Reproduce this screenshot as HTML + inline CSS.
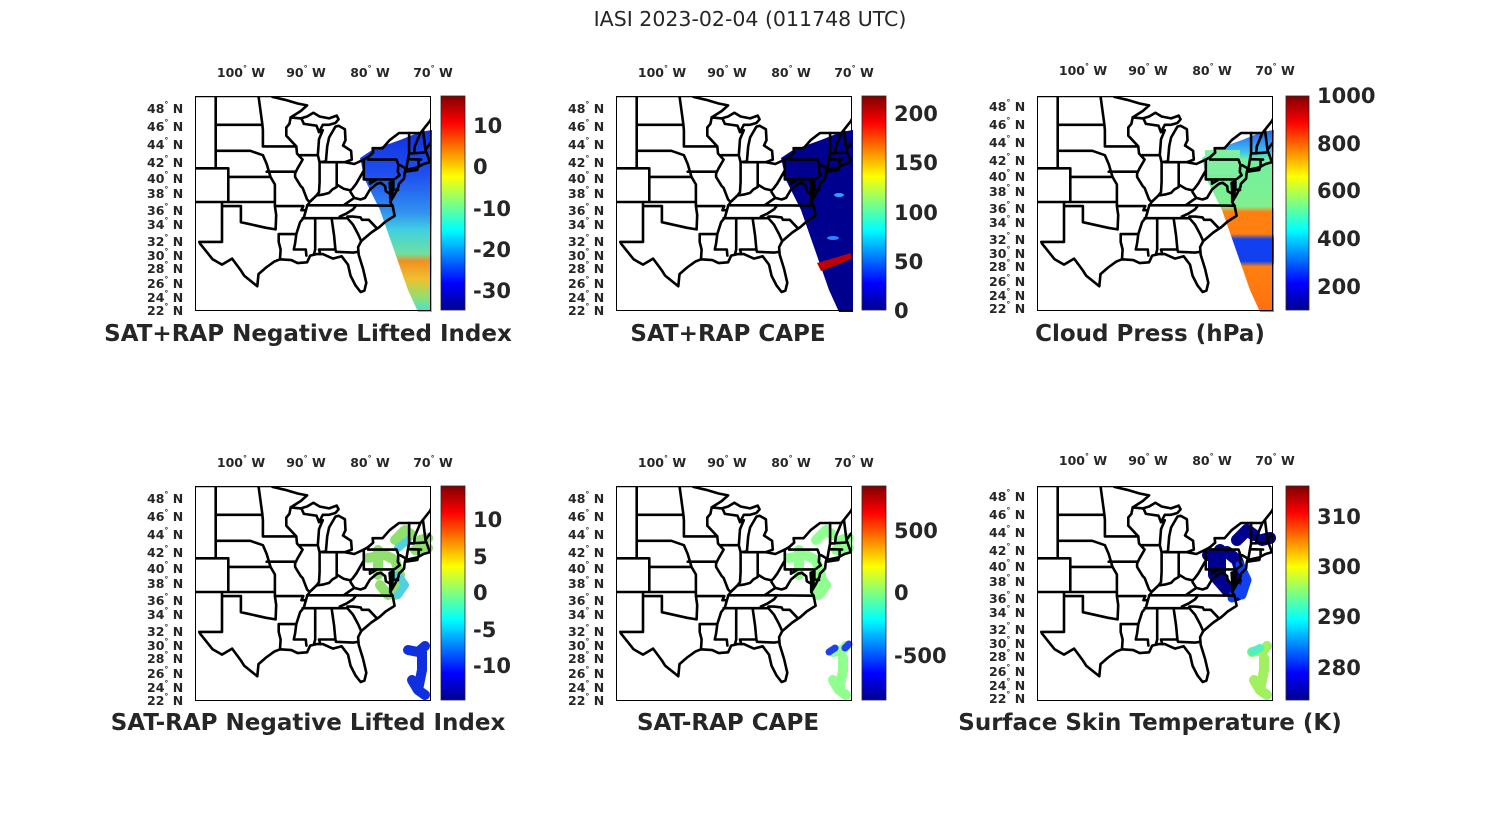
<!DOCTYPE html>
<html><head><meta charset="utf-8"><style>
html,body{margin:0;padding:0;background:#fff}
svg{display:block}
text{font-family:"DejaVu Sans","Liberation Sans",sans-serif;fill:#262626}
.lb{font-size:12.5px;font-weight:bold}
.cb{font-size:21px;font-weight:bold}
.tt{font-size:23px;font-weight:bold}
</style></head><body>
<svg width="1500" height="825" viewBox="0 0 1500 825" xmlns="http://www.w3.org/2000/svg">
<defs>
<linearGradient id="jet" x1="0" y1="1" x2="0" y2="0">
<stop offset="0" stop-color="#00008f"/><stop offset="0.125" stop-color="#0000ff"/><stop offset="0.375" stop-color="#00ffff"/><stop offset="0.625" stop-color="#ffff00"/><stop offset="0.875" stop-color="#ff0000"/><stop offset="1" stop-color="#800000"/>
</linearGradient>
<linearGradient id="g1" x1="0" y1="130" x2="0" y2="312" gradientUnits="userSpaceOnUse">
<stop offset="0" stop-color="#1030e0"/><stop offset="0.25" stop-color="#2050f0"/><stop offset="0.45" stop-color="#3090f0"/><stop offset="0.55" stop-color="#40d0e0"/><stop offset="0.68" stop-color="#70e0a0"/><stop offset="0.72" stop-color="#f09020"/><stop offset="0.82" stop-color="#f0c030"/><stop offset="0.92" stop-color="#90e070"/><stop offset="1" stop-color="#40e0e0"/>
</linearGradient>
<linearGradient id="g3" x1="0" y1="130" x2="0" y2="312" gradientUnits="userSpaceOnUse">
<stop offset="0" stop-color="#2060f0"/><stop offset="0.12" stop-color="#40c0f0"/><stop offset="0.16" stop-color="#70f0a0"/><stop offset="0.42" stop-color="#80f090"/><stop offset="0.45" stop-color="#ff8010"/><stop offset="0.57" stop-color="#ff8010"/><stop offset="0.6" stop-color="#1040f0"/><stop offset="0.72" stop-color="#1040f0"/><stop offset="0.75" stop-color="#ff8010"/><stop offset="1" stop-color="#ff7010"/>
</linearGradient>
<clipPath id="cl"><rect x="195" y="96" width="235" height="214"/></clipPath>
<g id="map" clip-path="url(#cl)">
<g fill="none" stroke="#000" stroke-width="2.6" stroke-linejoin="round" stroke-linecap="round">
<path id="coast" d="M106.5,31.8 L104.5,29.7 103,29 101.4,29.8 100,28.2 99.5,27.5 97.4,26 97.2,27.7 96,28.6 94.7,29.4 93.8,29.7 92,29.6 91,29.2 89.5,29.3 89,30.2 88,30.4 87,30.4 85.4,29.8 84,30.1 83,29 82.6,27.5 81.8,26.1 81,25.2 80.4,25.4 80.1,26.5 80.6,28.4 81.3,30.3 81.4,31.3 80.9,32.1 79.3,33.2 78,33.9 77,34.6 75.6,35.3 75.9,36.5 76.3,37 75.6,37.9 75.2,38.5 75,38.8 74.9,39.2 74.1,39.8 74,40.5 73.9,40.8 72,41.1 71,41.5 70,41.7 70.5,42.7 70.7,43.1 70,43.8 68.8,44.4 67,44.8 67.8,45.7 67.8,47.1 68.5,47.3 69.2,47.4 70,46.3 71.5,45 74.9,45 76.4,44.2 77.5,43.3 79.1,43.3 79,42.8 79.8,42.3 80.5,42 82,41.5 83.5,41.7 82.4,42 82.5,43 83.8,43.6 83.4,44.2 83.5,45.4 84.5,45.8 85,45.7 86,44.5 86.3,43.5 86.5,41.8 87.5,41.7 87.8,42.5 87.6,44.3 87,45.3 87.6,45.1 87,45.9 86,45.9 85,46.1 84.5,46.5 84.8,46.9 86,46.6 87.5,46.8 88.5,47.2 89.5,46.8 90.5,46.6 92.1,46.7 90.5,47.4 89.5,48 91,48.2 93,48.6 95,48.9 95,49 108,49"/>
<path id="states" d="M76.3,37 L76.3,38.3 76.4,39.3 76,39.4 75.9,38.5 76,37.5 M73.9,40.6 L72,40.8 71.9,41.1
M106.6,32 L103,32 103,37 M100,36.5 L100,34.5 96,33.8 94.5,33.6 M103,36.5 L100,36.5 M108,37 L94.6,37
M102,37 L102,41 M108,41 L102,41 M104,41 L104,49 M102,40 L95.3,40
M104,43 L98.5,43 96.5,42.5 95.9,41.5 95.3,40 94.6,39.1 94.6,36.5 94.4,35.4 94.5,33.6
M104,45.9 L96.6,45.9 M97.2,49 L96.6,46 96.5,45.3 96.5,43.5 91.2,43.5
M92.1,46.7 L92.3,46 92.8,45.6 92.8,44.7 91.2,43.5 M95.9,40.6 L91.4,40.6
M91.2,43.5 L91.1,42.7 90.2,42 91,41 91.4,40.4 91.4,40 90.5,38.9 90.2,38.7 89.5,37.3 89.1,37 89.5,36.5 90,35.1 90.6,34.5 91.2,33 91.4,31.8 91.6,31 89.7,31 89.6,30.2
M94.6,36.5 L90.1,36.5 90.4,36 89.7,36 M94,33 L91.2,33 M94,33 L94,32 93.7,31 93.8,29.7
M90.6,42.5 L87.8,42.5 M90.4,46.6 L90,46 88,45.8 87.6,45.1
M87.5,41.7 L87.5,39.4 87.6,38.2 88,37.8
M89.1,37 L88,37.8 87,37.9 86,38.1 85.5,38.5 84.8,38.8 84.8,39.1 83.7,38.6 82.6,38.4 82.3,38.6 81.7,39.2 80.6,40.6
M84.8,39.1 L84.8,41.7 M87,41.7 L83.5,41.7 M89.5,36.6 L81.7,36.6
M83.7,36.6 L82.6,37.2 82,37.5 82.6,38.2 82.6,38.4
M82,37.5 L81,37.3 80.3,37.5 79.5,38.5 78.4,39.2 77.8,39.3 77.1,38.9 77,38.3 76.3,38
M80.5,40.6 L80.5,39.7 75.8,39.7 M79.5,39.7 L79.5,39.2 78.4,39.7
M81.7,36.6 L82.2,36.1 83.2,35.6 84.3,35.2 84.3,35 90.2,35
M88.2,35 L88.2,31 88.4,30.4 M85.6,35 L85.2,32.8 85,31 87.6,31 87.4,30.4
M85,31 L84.9,30.7 82.2,30.6 81.4,30.7 M83.1,35 L82.2,34.2 81.4,33 80.9,32.1
M84.3,35 L83.1,35 M83.1,35.2 L82.2,35.2 81,35.1 80.8,34.8 79.7,34.8 78.5,33.8
M81.7,36.6 L75.9,36.55 M80.5,42 L80.5,40.6
M79.8,42.3 L79.8,42 75.3,42 75,41.4 75.1,40.6 74.8,40.2 75.5,39.8
M75.8,39.7 L75.8,38.5 75.05,38.45 M74.7,41.35 L73.9,41
M73.7,41.1 L73.5,42 73.3,42.7 73.3,45 M73.5,42.05 L71.4,42 M71.8,42 L71.8,41.3
M73.3,42.7 L70.9,42.8 M72.5,42.7 L72.4,43.5 71.5,45 M70.7,43.1 L71.1,45.3"/>
</g>
</g>
<g id="lab">
<text class="lb" x="241" y="77" text-anchor="middle">100<tspan font-size="8" dy="-6">°</tspan><tspan dy="6"> W</tspan></text>
<text class="lb" x="306" y="77" text-anchor="middle">90<tspan font-size="8" dy="-6">°</tspan><tspan dy="6"> W</tspan></text>
<text class="lb" x="370" y="77" text-anchor="middle">80<tspan font-size="8" dy="-6">°</tspan><tspan dy="6"> W</tspan></text>
<text class="lb" x="433" y="77" text-anchor="middle">70<tspan font-size="8" dy="-6">°</tspan><tspan dy="6"> W</tspan></text>
<g>
<text class="lb" x="147" y="113">48<tspan font-size="8" dy="-6">°</tspan><tspan dy="6"> N</tspan></text>
<text class="lb" x="147" y="131">46<tspan font-size="8" dy="-6">°</tspan><tspan dy="6"> N</tspan></text>
<text class="lb" x="147" y="149">44<tspan font-size="8" dy="-6">°</tspan><tspan dy="6"> N</tspan></text>
<text class="lb" x="147" y="167">42<tspan font-size="8" dy="-6">°</tspan><tspan dy="6"> N</tspan></text>
<text class="lb" x="147" y="183">40<tspan font-size="8" dy="-6">°</tspan><tspan dy="6"> N</tspan></text>
<text class="lb" x="147" y="198">38<tspan font-size="8" dy="-6">°</tspan><tspan dy="6"> N</tspan></text>
<text class="lb" x="147" y="215">36<tspan font-size="8" dy="-6">°</tspan><tspan dy="6"> N</tspan></text>
<text class="lb" x="147" y="229">34<tspan font-size="8" dy="-6">°</tspan><tspan dy="6"> N</tspan></text>
<text class="lb" x="147" y="246">32<tspan font-size="8" dy="-6">°</tspan><tspan dy="6"> N</tspan></text>
<text class="lb" x="147" y="260">30<tspan font-size="8" dy="-6">°</tspan><tspan dy="6"> N</tspan></text>
<text class="lb" x="147" y="273">28<tspan font-size="8" dy="-6">°</tspan><tspan dy="6"> N</tspan></text>
<text class="lb" x="147" y="288">26<tspan font-size="8" dy="-6">°</tspan><tspan dy="6"> N</tspan></text>
<text class="lb" x="147" y="302">24<tspan font-size="8" dy="-6">°</tspan><tspan dy="6"> N</tspan></text>
<text class="lb" x="147" y="315">22<tspan font-size="8" dy="-6">°</tspan><tspan dy="6"> N</tspan></text>
</g>
</g>
<polygon id="swath" points="360,158 372,150 400,140 420,132 432,130 432,312 418,312 408,290 380,210 365,180"/>
</defs>

<text x="750" y="26" text-anchor="middle" style="font-size:20.5px">IASI 2023-02-04 (011748 UTC)</text>

<!-- Panel 1 -->
<use href="#swath" fill="url(#g1)"/>
<use href="#map"/>
<use href="#lab"/>
<rect x="195.5" y="96.5" width="235" height="214" fill="none" stroke="#000" stroke-width="1"/>
<rect x="441" y="96" width="24" height="214" fill="url(#jet)" stroke="#262626" stroke-width="0.8"/>
<text class="cb" x="473" y="133">10</text><text class="cb" x="473" y="174">0</text><text class="cb" x="473" y="216">-10</text><text class="cb" x="473" y="257">-20</text><text class="cb" x="473" y="298">-30</text>
<text class="tt" x="308" y="341" text-anchor="middle">SAT+RAP Negative Lifted Index</text>

<!-- Panel 2 -->
<g transform="translate(421,0)">
<use href="#swath" fill="#00008f"/>
<polygon points="396,263 430,253 430,259 400,271" fill="#c00000"/>
<ellipse cx="418" cy="195" rx="5" ry="2" fill="#30a0ff"/><ellipse cx="412" cy="238" rx="6" ry="2" fill="#3080ff"/>
<use href="#map"/>
<use href="#lab"/>
<rect x="195.5" y="96.5" width="235" height="214" fill="none" stroke="#000" stroke-width="1"/>
</g>
<rect x="862" y="96" width="24" height="214" fill="url(#jet)" stroke="#262626" stroke-width="0.8"/>
<text class="cb" x="894" y="121">200</text><text class="cb" x="894" y="170">150</text><text class="cb" x="894" y="220">100</text><text class="cb" x="894" y="269">50</text><text class="cb" x="894" y="318">0</text>
<text class="tt" x="728" y="341" text-anchor="middle">SAT+RAP CAPE</text>

<!-- Panel 3 -->
<g transform="translate(842,0)">
<use href="#swath" fill="url(#g3)"/>
<rect x="363" y="150" width="35" height="25" fill="#80f0a0"/>
<use href="#map"/>
<use href="#lab" transform="translate(0,-2)"/>
<rect x="195.5" y="96.5" width="235" height="214" fill="none" stroke="#000" stroke-width="1"/>
</g>
<rect x="1286" y="96" width="23" height="214" fill="url(#jet)" stroke="#262626" stroke-width="0.8"/>
<text class="cb" x="1317" y="103">1000</text><text class="cb" x="1317" y="151">800</text><text class="cb" x="1317" y="198">600</text><text class="cb" x="1317" y="246">400</text><text class="cb" x="1317" y="294">200</text>
<text class="tt" x="1150" y="341" text-anchor="middle">Cloud Press (hPa)</text>

<!-- Row 2 -->
<g transform="translate(0,390)" stroke-linecap="round" stroke-linejoin="round" fill="none">
<path d="M368,168 L385,165 395,170 400,185 395,205 M378,160 L378,185 M380,195 L388,205 M395,150 L405,140 412,145 M420,150 L428,148 M415,160 L428,158" stroke="#90e070" stroke-width="10"/>
<path d="M398,185 L405,195 398,205 M398,158 L408,150" stroke="#50d0e0" stroke-width="8"/>
<path d="M408,260 L418,262 425,256 M422,262 L422,280 418,300 425,305 M412,290 L418,300" stroke="#1030e0" stroke-width="10"/>
</g>
<g transform="translate(0,390)">
<use href="#map"/><use href="#lab"/>
<rect x="195.5" y="96.5" width="235" height="214" fill="none" stroke="#000" stroke-width="1"/>
</g>
<rect x="441" y="486" width="24" height="214" fill="url(#jet)" stroke="#262626" stroke-width="0.8"/>
<text class="cb" x="473" y="527">10</text><text class="cb" x="473" y="564">5</text><text class="cb" x="473" y="600">0</text><text class="cb" x="473" y="637">-5</text><text class="cb" x="473" y="673">-10</text>
<text class="tt" x="308" y="730" text-anchor="middle">SAT-RAP Negative Lifted Index</text>

<g transform="translate(421,390)" stroke-linecap="round" stroke-linejoin="round" fill="none">
<path d="M368,168 L385,165 395,170 400,185 395,205 M378,160 L378,185 M395,150 L405,140 412,145 M420,150 L428,148 M415,160 L428,158 M398,185 L405,195 398,205" stroke="#90ff90" stroke-width="10"/>
<path d="M412,262 L422,260 425,256 M422,268 L422,280 418,300 425,305 M412,290 L418,300" stroke="#90ff90" stroke-width="10"/>
<path d="M408,262 L414,258 M424,258 L428,254" stroke="#2040f0" stroke-width="7"/>
</g>
<g transform="translate(421,390)">
<use href="#map"/><use href="#lab"/>
<rect x="195.5" y="96.5" width="235" height="214" fill="none" stroke="#000" stroke-width="1"/>
</g>
<rect x="862" y="486" width="24" height="214" fill="url(#jet)" stroke="#262626" stroke-width="0.8"/>
<text class="cb" x="894" y="538">500</text><text class="cb" x="894" y="600">0</text><text class="cb" x="894" y="663">-500</text>
<text class="tt" x="728" y="730" text-anchor="middle">SAT-RAP CAPE</text>

<g transform="translate(842,390)" stroke-linecap="round" stroke-linejoin="round" fill="none">
<path d="M366,165 L385,162 395,170 400,185 395,205 M372,165 L372,185 385,200 M378,160 L378,190 M380,190 L392,205 M395,150 L405,140 412,145 M420,150 L428,148" stroke="#000090" stroke-width="12"/>
<path d="M398,175 L405,190 400,205 M395,198 L390,208" stroke="#1040f0" stroke-width="9"/>
<path d="M410,262 L422,260 425,256 M422,268 L422,280 418,300 425,305 M412,290 L418,300" stroke="#a0f060" stroke-width="10"/>
<path d="M410,262 L418,258" stroke="#50f0c0" stroke-width="8"/>
</g>
<g transform="translate(842,390)">
<use href="#map"/><use href="#lab" transform="translate(0,-2)"/>
<rect x="195.5" y="96.5" width="235" height="214" fill="none" stroke="#000" stroke-width="1"/>
</g>
<rect x="1286" y="486" width="23" height="214" fill="url(#jet)" stroke="#262626" stroke-width="0.8"/>
<text class="cb" x="1317" y="524">310</text><text class="cb" x="1317" y="574">300</text><text class="cb" x="1317" y="624">290</text><text class="cb" x="1317" y="675">280</text>
<text class="tt" x="1150" y="730" text-anchor="middle">Surface Skin Temperature (K)</text>
</svg>
<script>
(function(){
  function px(W,N){
    var d=N-37;
    var x=222+(103-W)*6.3;
    var y=202-8.225*d-0.0507*d*d;
    return x.toFixed(1)+","+y.toFixed(1);
  }
  ["coast","states"].forEach(function(id){
    var el=document.getElementById(id);
    var d=el.getAttribute("d");
    d=d.replace(/(-?\d+(?:\.\d+)?),(-?\d+(?:\.\d+)?)/g,function(m,a,b){return px(parseFloat(a),parseFloat(b));});
    el.setAttribute("d",d);
  });
})();
</script>
</body></html>
